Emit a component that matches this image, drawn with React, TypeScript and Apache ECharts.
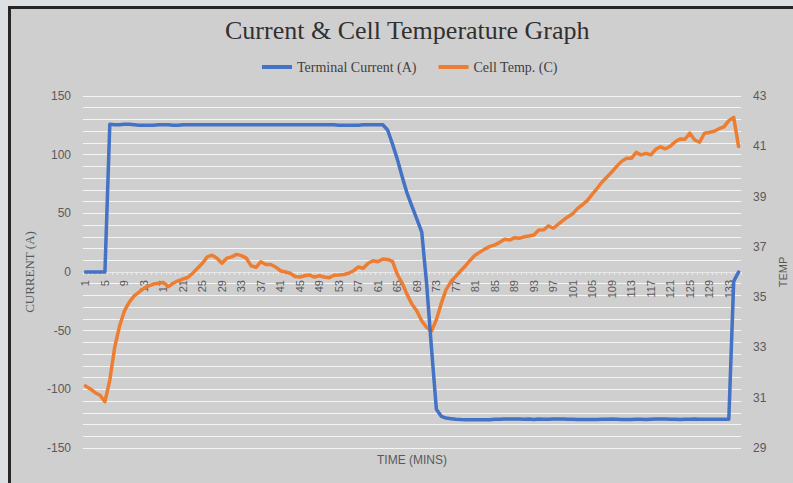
import React, { useEffect, useRef } from "react";
import * as echarts from "echarts";

const categories: string[] = Array.from({ length: 135 }, (_, i) => String(i + 1));

const seriesNames = ["Terminal Current (A)", "Cell Temp. (C)"];

const currentA: number[] = [
  0, 0, 0, 0, 0,
  126, 125.5, 125.5, 126, 126, 125.5, 125, 125, 125, 125,
  125.5, 125.5, 125.5, 125, 125, 125.5, 125.5, 125.5, 125.5, 125.5,
  125.5, 125.5, 125.5, 125.5, 125.5, 125.5, 125.5, 125.5, 125.5, 125.5,
  125.5, 125.5, 125.5, 125.5, 125.5, 125.5, 125.5, 125.5, 125.5, 125.5,
  125.5, 125.5, 125.5, 125.5, 125.5, 125.5, 125.5, 125, 125, 125,
  125, 125, 125.5, 125.5, 125.5, 125.5, 125.5,
  121, 109, 96, 81, 67, 56, 45, 34,
  -10, -65, -117, -123, -124.5, -125, -125.5, -125.8, -126, -126,
  -126, -126, -126, -126, -125.5, -125.5, -125.3, -125.3, -125.3, -125.3,
  -125.5, -125.3, -125.8, -125.3, -125.5, -125.5, -125.3, -125.3, -125.3, -125.5,
  -125.5, -125.8, -125.8, -125.8, -125.8, -125.8, -125.5, -125.5, -125.3, -125.5,
  -125.8, -125.8, -125.8, -125.5, -125.5, -125.8, -125.5, -125.3, -125.3, -125.3,
  -125.5, -125.5, -125.8, -125.5, -125.5, -125.3, -125.5, -125.5, -125.5, -125.5,
  -125.5, -125.5, -125.5, -8, 0,
];

const cellTempC: number[] = [
  31.47, 31.35, 31.2, 31.1, 30.84, 31.7, 33.0, 33.85, 34.45, 34.8,
  35.05, 35.2, 35.35, 35.45, 35.52, 35.55, 35.58, 35.42, 35.55, 35.65,
  35.72, 35.78, 35.95, 36.15, 36.35, 36.6, 36.67, 36.55, 36.35, 36.55,
  36.6, 36.7, 36.65, 36.55, 36.25, 36.19, 36.41, 36.3, 36.3, 36.2,
  36.05, 36.0, 35.95, 35.82, 35.8, 35.85, 35.88, 35.8, 35.85, 35.8,
  35.77, 35.87, 35.88, 35.9, 35.95, 36.05, 36.2, 36.15, 36.35, 36.45,
  36.41, 36.52, 36.5, 36.42, 35.9, 35.55, 35.1, 34.72, 34.45, 34.05,
  33.8, 33.65, 34.1, 34.75, 35.3, 35.62, 35.83, 36.05, 36.25, 36.48,
  36.68, 36.8, 36.92, 37.02, 37.08, 37.18, 37.3, 37.27, 37.36, 37.34,
  37.4, 37.43, 37.47, 37.67, 37.68, 37.83, 37.74, 37.9, 38.05, 38.2,
  38.32, 38.53, 38.68, 38.85, 39.1, 39.33, 39.58, 39.78, 39.98, 40.2,
  40.4, 40.52, 40.52, 40.76, 40.66, 40.72, 40.66, 40.88, 40.98, 40.9,
  41.0, 41.18, 41.29, 41.28, 41.52, 41.25, 41.16, 41.52, 41.55, 41.6,
  41.7, 41.77, 42.02, 42.15, 40.99,
];

const leftAxisLabelStep = 50;

export default function App() {
  const ref = useRef<HTMLDivElement>(null);

  useEffect(() => {
    document.body.style.margin = "0";
    if (!ref.current) return;
    const chart = echarts.init(ref.current, null, { renderer: "svg" });
    const axisText = { fontFamily: "Liberation Sans", color: "#595959" };
    chart.setOption({
      animation: false,
      title: {
        text: "Current & Cell Temperature Graph",
        left: 220,
        top: 12,
        textStyle: {
          fontFamily: "Liberation Serif",
          fontSize: 26,
          fontWeight: "normal",
          color: "#303030",
        },
      },
      legend: {
        data: seriesNames,
        left: 257,
        top: 55,
        icon: "rect",
        itemWidth: 30,
        itemHeight: 4,
        itemGap: 22,
        textStyle: { fontFamily: "Liberation Serif", fontSize: 14, color: "#404040" },
      },
      grid: {
        left: 83,
        right: 52,
        top: 96,
        bottom: 35,
        containLabel: false,
        outerBoundsMode: "none",
      },
      xAxis: {
        type: "category",
        data: categories,
        boundaryGap: true,
        position: "bottom",
        offset: -176,
        z: 0,
        name: "TIME (MINS)",
        nameLocation: "middle",
        nameGap: 182,
        nameTextStyle: { ...axisText, fontSize: 12 },
        axisLine: { onZero: false, lineStyle: { color: "#e8e8e8", width: 1 } },
        axisTick: { show: true, interval: 0, length: 3, lineStyle: { color: "#e8e8e8" } },
        axisLabel: { ...axisText, interval: 3, rotate: 90, fontSize: 11, margin: 8 },
        splitLine: { show: false },
      },
      yAxis: [
        {
          type: "value",
          min: -150,
          max: 150,
          interval: 10,
          name: "CURRENT (A)",
          nameLocation: "middle",
          nameGap: 35,
          nameTextStyle: { fontFamily: "Liberation Serif", fontSize: 13, color: "#595959" },
          axisLine: { show: false },
          axisTick: { show: false },
          axisLabel: {
            ...axisText,
            fontSize: 12,
            margin: 12,
            formatter: (v: number) => (v % leftAxisLabelStep === 0 ? String(v) : ""),
          },
          splitLine: { lineStyle: { color: "#f5f5f5", width: 1 } },
        },
        {
          type: "value",
          position: "right",
          min: 29,
          max: 43,
          interval: 2,
          name: "TEMP",
          nameLocation: "middle",
          nameGap: 29,
          nameTextStyle: { ...axisText, fontSize: 11 },
          axisLine: { show: false },
          axisTick: { show: false },
          axisLabel: { ...axisText, fontSize: 12, margin: 12 },
          splitLine: { show: false },
        },
      ],
      series: [
        {
          name: seriesNames[0],
          type: "line",
          yAxisIndex: 0,
          data: currentA,
          color: "#4472c4",
          symbol: "none",
          lineStyle: { width: 3.5, cap: "round", join: "round" },
          z: 3,
        },
        {
          name: seriesNames[1],
          type: "line",
          yAxisIndex: 1,
          data: cellTempC,
          color: "#ed7d31",
          symbol: "none",
          lineStyle: { width: 3.5, cap: "round", join: "round" },
          z: 2,
        },
      ],
    });
    return () => chart.dispose();
  }, []);

  return (
    <div
      style={{
        position: "fixed",
        left: 0,
        top: 0,
        width: 793,
        height: 483,
        background: "#dde0e3",
        overflow: "hidden",
      }}
    >
      <div
        style={{
          position: "absolute",
          left: 8,
          top: 6,
          width: 900,
          height: 600,
          border: "3px solid #262626",
          background: "#d0cfcf",
        }}
      />
      <div ref={ref} style={{ position: "absolute", left: 0, top: 0, width: 793, height: 483 }} />
    </div>
  );
}
